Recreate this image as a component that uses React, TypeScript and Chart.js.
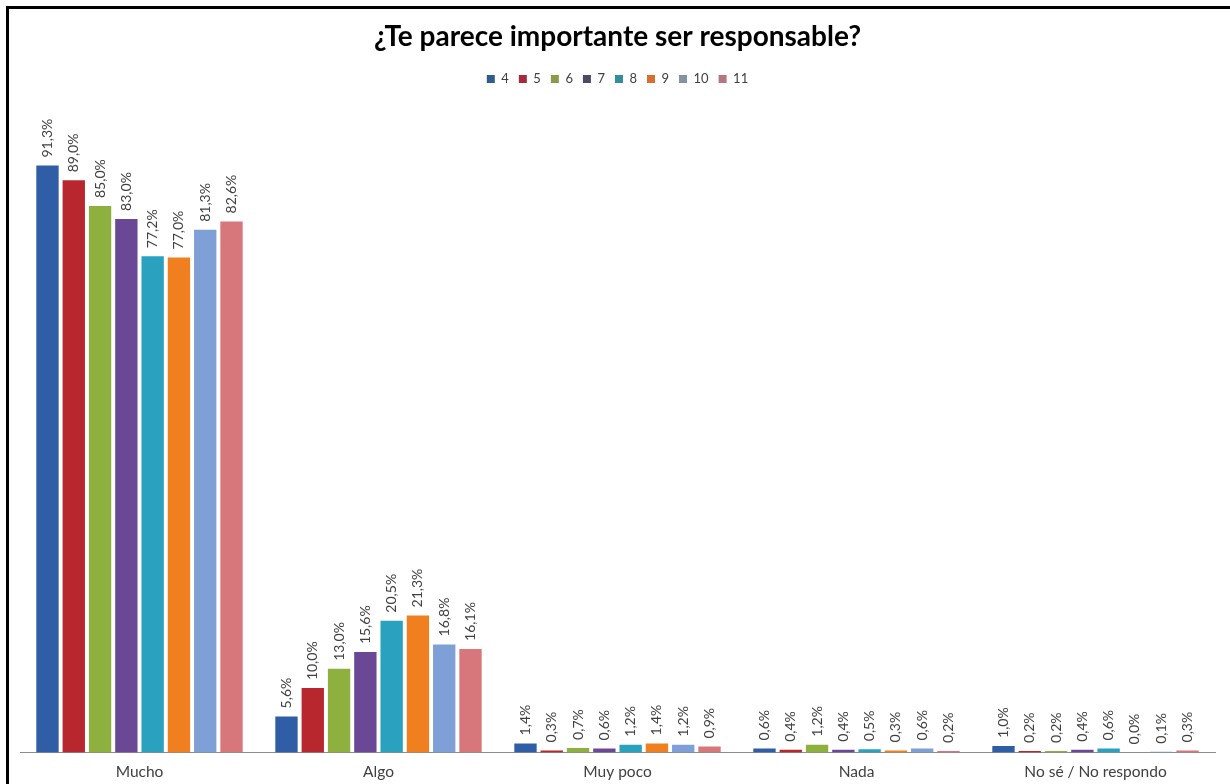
import React, { useEffect, useRef } from "react";
import { Chart, registerables } from "chart.js";

Chart.register(...registerables);

const categories = ["Mucho", "Algo", "Muy poco", "Nada", "No sé / No respondo"];
const seriesNames = ["4", "5", "6", "7", "8", "9", "10", "11"];
const s4 = [91.3, 5.6, 1.4, 0.6, 1.0];
const s5 = [89.0, 10.0, 0.3, 0.4, 0.2];
const s6 = [85.0, 13.0, 0.7, 1.2, 0.2];
const s7 = [83.0, 15.6, 0.6, 0.4, 0.4];
const s8 = [77.2, 20.5, 1.2, 0.5, 0.6];
const s9 = [77.0, 21.3, 1.4, 0.3, 0.0];
const s10 = [81.3, 16.8, 1.2, 0.6, 0.1];
const s11 = [82.6, 16.1, 0.9, 0.2, 0.3];
const seriesValues = [s4, s5, s6, s7, s8, s9, s10, s11];

const barColors = ["#2F5EA6", "#B8272D", "#8DB03F", "#6B4896", "#2AA2BF", "#F07F1F", "#7EA0D6", "#D7777C"];
const legendColors = ["#2F5C8F", "#A52A3C", "#8B9B4A", "#4A4A62", "#2F8F9A", "#D5702F", "#8592A3", "#B97482"];

const FONT = "Lato, 'Open Sans', sans-serif";

const fmt = (v: number) => v.toFixed(1).replace(".", ",") + "%";

const labelPlugin = {
  id: "barLabels",
  afterDatasetsDraw(chart: any) {
    const ctx = chart.ctx;
    ctx.save();
    ctx.font = `14px ${FONT}`;
    ctx.fillStyle = "#404040";
    ctx.textAlign = "left";
    ctx.textBaseline = "middle";
    chart.data.datasets.forEach((ds: any, i: number) => {
      const meta = chart.getDatasetMeta(i);
      meta.data.forEach((el: any, j: number) => {
        const v = ds.data[j];
        ctx.save();
        ctx.translate(el.x, el.y - 8);
        ctx.rotate(-Math.PI / 2);
        ctx.fillText(fmt(v), 0, 0);
        ctx.restore();
      });
    });
    ctx.restore();
  },
};

const framePlugin = {
  id: "frame",
  beforeInit(chart: any) {
    const legend = chart.legend;
    if (legend) {
      const orig = legend.fit;
      legend.fit = function () {
        orig.call(this);
        this.height += 14;
      };
    }
  },
  beforeDraw(chart: any) {
    const ctx = chart.ctx;
    ctx.save();
    ctx.fillStyle = "#ffffff";
    ctx.fillRect(0, 0, chart.width, chart.height);
    ctx.fillStyle = "#000000";
    ctx.fillRect(6, 6, 3, chart.height - 6);
    ctx.fillRect(6, 6, chart.width - 6, 3);
    ctx.restore();
  },
};

export default function App() {
  const ref = useRef<HTMLCanvasElement | null>(null);
  useEffect(() => {
    if (!ref.current) return;
    const chart = new Chart(ref.current, {
      type: "bar",
      data: {
        labels: categories,
        datasets: seriesNames.map((n, i) => ({
          label: n,
          data: seriesValues[i],
          backgroundColor: barColors[i],
          borderWidth: 0,
          categoryPercentage: 0.88,
          barPercentage: 0.85,
        })),
      },
      options: {
        responsive: true,
        maintainAspectRatio: false,
        animation: false,
        layout: { padding: { top: 15, left: 20, right: 15, bottom: -7 } },
        plugins: {
          title: {
            display: true,
            text: "¿Te parece importante ser responsable?",
            color: "#000000",
            font: { family: FONT, size: 28, weight: "bold" },
            padding: { top: 5, bottom: 9 },
          },
          legend: {
            display: true,
            position: "top",
            labels: {
              boxWidth: 8,
              boxHeight: 8,
              padding: 10,
              color: "#404040",
              font: { family: FONT, size: 13 },
              generateLabels: () =>
                seriesNames.map((n, i) => ({
                  text: n,
                  fillStyle: legendColors[i],
                  strokeStyle: legendColors[i],
                  lineWidth: 0,
                  hidden: false,
                  datasetIndex: i,
                  fontColor: "#404040",
                })),
            },
          },
          tooltip: { enabled: false },
        },
        scales: {
          x: {
            grid: { display: false, drawTicks: false },
            border: { display: true, color: "#8C8C8C", width: 1 },
            ticks: { color: "#404040", font: { family: FONT, size: 15.5 }, padding: 10 },
          },
          y: {
            display: false,
            min: 0,
            max: 100,
          },
        },
      },
      plugins: [labelPlugin, framePlugin],
    });
    return () => chart.destroy();
  }, []);
  return (
    <div style={{ position: "absolute", left: 0, top: 0, width: 1230, height: 784 }}>
      <canvas ref={ref} />
    </div>
  );
}
